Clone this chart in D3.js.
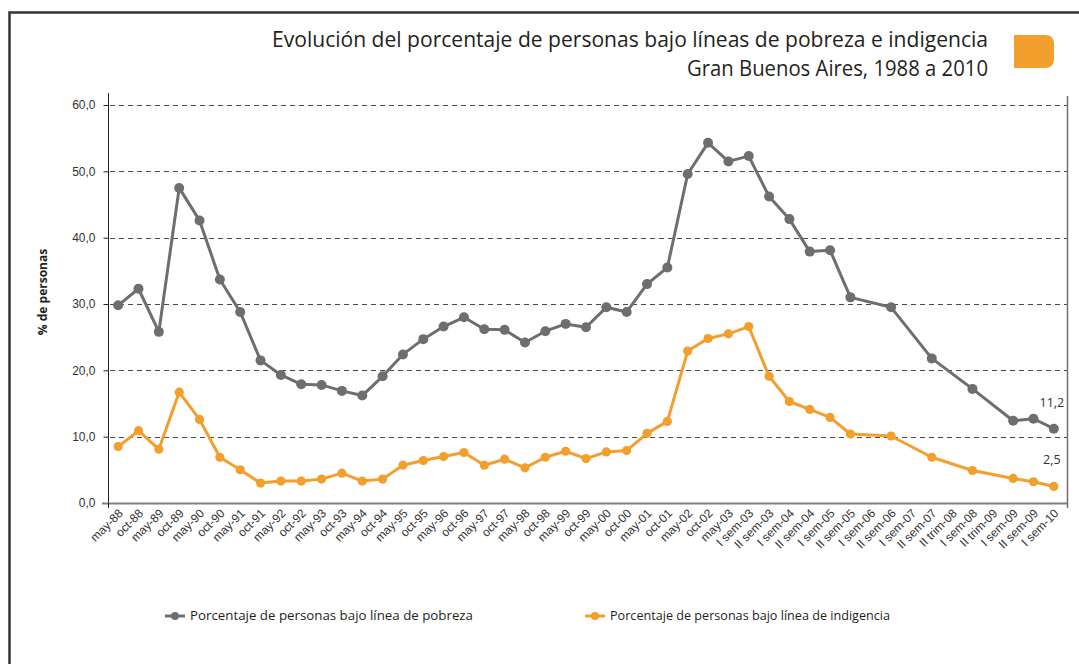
<!DOCTYPE html>
<html>
<head>
<meta charset="utf-8">
<script src="https://cdnjs.cloudflare.com/ajax/libs/d3/7.8.5/d3.min.js"></script>
<style>
  html, body { margin: 0; padding: 0; background: #ffffff; }
  svg { display: block; font-family: "Open Sans", "DejaVu Sans", sans-serif; }
</style>
</head>
<body>
<div id="chart"></div>
<script>
// periodos (onda mayo / octubre, luego EPH continua)
var categories = [
  'may-88', 'oct-88', 'may-89', 'oct-89', 'may-90', 'oct-90', 'may-91', 'oct-91',
  'may-92', 'oct-92', 'may-93', 'oct-93', 'may-94', 'oct-94', 'may-95', 'oct-95',
  'may-96', 'oct-96', 'may-97', 'oct-97', 'may-98', 'oct-98', 'may-99', 'oct-99',
  'may-00', 'oct-00', 'may-01', 'oct-01', 'may-02', 'oct-02', 'may-03',
  'I sem-03', 'II sem-03', 'I sem-04', 'II sem-04', 'I sem-05', 'II sem-05',
  'I sem-06', 'II sem-06', 'I sem-07', 'II sem-07', 'II trim-08', 'I sem-08',
  'II trim-09', 'I sem-09', 'II sem-09', 'I sem-10'
];

// % de personas bajo linea de pobreza
var pobreza = [
  29.8, 32.3, 25.8, 47.5, 42.6, 33.7, 28.8, 21.5, 19.3, 17.9, 17.8, 16.9, 16.2, 19.1, 22.4, 24.7,
  26.6, 28.0, 26.2, 26.1, 24.2, 25.9, 27.0, 26.5, 29.5, 28.8, 33.0, 35.5, 49.6, 54.3, 51.5,
  52.3, 46.2, 42.8, 37.9, 38.1, 31.0, null, 29.5, null, 21.8, null, 17.2, null, 12.4, 12.7, 11.2
];

// % de personas bajo linea de indigencia
var indigencia = [
  8.5, 10.9, 8.1, 16.7, 12.6, 6.9, 5.0, 3.0, 3.3, 3.3, 3.6, 4.5, 3.3, 3.6, 5.7, 6.4,
  7.0, 7.6, 5.7, 6.6, 5.3, 6.9, 7.8, 6.7, 7.7, 7.9, 10.5, 12.3, 22.9, 24.8, 25.5,
  26.6, 19.1, 15.3, 14.1, 12.9, 10.4, null, 10.1, null, 6.9, null, 4.9, null, 3.7, 3.2, 2.5
];

var yTicks = [0, 10, 20, 30, 40, 50, 60];

var seriesNames = [
  'Porcentaje de personas bajo línea de pobreza',
  'Porcentaje de personas bajo línea de indigencia'
];

var titleLines = [
  'Evolución del porcentaje de personas bajo líneas de pobreza e indigencia',
  'Gran Buenos Aires, 1988 a 2010'
];

var width = 1079;
var height = 664;
var margin = { top: 105, right: 12, bottom: 161, left: 108 };
var grey = '#6d6e71';
var orange = '#f29f2d';
var fmt = function(v) { return d3.format('.1f')(v).replace('.', ','); };

var svg = d3.select('#chart').append('svg')
  .attr('width', width)
  .attr('height', height);

// marco de la pagina
svg.append('path')
  .attr('d', 'M9.5,664 L9.5,12.5 L1079,12.5')
  .attr('fill', 'none')
  .attr('stroke', '#333333')
  .attr('stroke-width', 2.5);

// titulo
var title = svg.append('g').attr('class', 'title');
title.selectAll('text')
  .data(titleLines)
  .enter().append('text')
  .attr('x', 988)
  .attr('y', function(d, i) { return 47 + i * 29; })
  .attr('text-anchor', 'end')
  .attr('fill', '#231f20')
  .style('font-size', '21px')
  .attr('textLength', function(d, i) { return i === 0 ? 716 : 301; })
  .attr('lengthAdjust', 'spacingAndGlyphs')
  .text(function(d) { return d; });

// marca naranja
svg.append('path')
  .attr('d', 'M1014,35 L1045,35 Q1054,35 1054,44 L1054,59 Q1054,68 1045,68 L1014,68 Z')
  .attr('fill', orange);

var plotW = width - margin.left - margin.right;
var plotH = height - margin.top - margin.bottom;

// los puntos terminan un poco antes del borde derecho
var x = d3.scalePoint()
  .domain(categories)
  .range([margin.left, margin.left + plotW - 3])
  .padding(0.5);

var y = d3.scaleLinear()
  .domain([0, 60])
  .range([margin.top + plotH, margin.top]);

// grilla
svg.append('g')
  .attr('class', 'grid')
  .selectAll('line')
  .data(yTicks.filter(function(d) { return d > 0; }))
  .enter().append('line')
  .attr('x1', margin.left + 2)
  .attr('x2', margin.left + plotW)
  .attr('y1', function(d) { return Math.round(y(d)) + 0.5; })
  .attr('y2', function(d) { return Math.round(y(d)) + 0.5; })
  .attr('stroke', '#4a4a4a')
  .attr('stroke-width', 1)
  .attr('stroke-dasharray', '5,4');

// eje Y
var yAxis = svg.append('g')
  .attr('transform', 'translate(' + (margin.left + 0.5) + ',0)')
  .call(d3.axisLeft(y).tickValues(yTicks).tickSize(5).tickPadding(8).tickFormat(fmt));
yAxis.select('.domain')
  .attr('d', 'M0,' + (margin.top - 12) + 'V' + (margin.top + plotH + 4))
  .attr('stroke', '#231f20');
yAxis.selectAll('.tick line').attr('stroke', '#231f20');
yAxis.selectAll('.tick text')
  .attr('fill', '#333333')
  .style('font-size', '12px');

svg.append('text')
  .attr('transform', 'translate(47,' + 292 + ') rotate(-90)')
  .attr('text-anchor', 'middle')
  .attr('fill', '#231f20')
  .style('font-size', '12px')
  .style('font-weight', 'bold')
  .text('% de personas');

// borde derecho del area de grafico
svg.append('line')
  .attr('x1', margin.left + plotW + 0.5)
  .attr('x2', margin.left + plotW + 0.5)
  .attr('y1', margin.top - 9)
  .attr('y2', margin.top + plotH + 5)
  .attr('stroke', '#6d6e71')
  .attr('stroke-width', 1.5);

// eje X
var xAxis = svg.append('g')
  .attr('transform', 'translate(0,' + (margin.top + plotH) + ')')
  .call(d3.axisBottom(x).tickSize(0).tickPadding(0));
xAxis.select('.domain')
  .attr('d', 'M' + (margin.left - 6) + ',0.5H' + (margin.left + plotW))
  .attr('stroke', '#808080')
  .attr('stroke-width', 2);
xAxis.selectAll('.tick text')
  .attr('fill', '#333333')
  .style('font-size', '12px')
  .attr('text-anchor', 'end')
  .attr('dy', null)
  .attr('transform', 'translate(5,11) rotate(-45)');
xAxis.append('line')
  .attr('x1', margin.left + 0.5)
  .attr('x2', margin.left + 0.5)
  .attr('y1', 0)
  .attr('y2', 5)
  .attr('stroke', '#231f20');

// series
var series = [
  { name: seriesNames[0], values: pobreza, color: grey, r: 5 },
  { name: seriesNames[1], values: indigencia, color: orange, r: 4.6 }
];

var line = d3.line()
  .x(function(d) { return x(d.cat); })
  .y(function(d) { return y(d.value); });

series.forEach(function(s) {
  var pts = categories.map(function(c, i) {
    return { cat: c, value: s.values[i] };
  }).filter(function(d) { return d.value !== null; });

  var g = svg.append('g').attr('class', 'series');
  g.append('path')
    .datum(pts)
    .attr('d', line)
    .attr('fill', 'none')
    .attr('stroke', s.color)
    .attr('stroke-width', 3)
    .attr('stroke-linejoin', 'round');
  g.selectAll('circle')
    .data(pts)
    .enter().append('circle')
    .attr('cx', function(d) { return x(d.cat); })
    .attr('cy', function(d) { return y(d.value); })
    .attr('r', s.r)
    .attr('fill', s.color);

  // etiqueta del ultimo valor
  var last = pts[pts.length - 1];
  svg.append('text')
    .attr('x', x(last.cat) - 2)
    .attr('y', y(last.value) - 22)
    .attr('text-anchor', 'middle')
    .attr('fill', '#333333')
    .style('font-size', '12.5px')
    .text(fmt(last.value));
});

// leyenda
var legend = svg.append('g').attr('class', 'legend');
var legendX = [165, 585];
series.forEach(function(s, i) {
  var lg = legend.append('g').attr('transform', 'translate(' + legendX[i] + ',616)');
  lg.append('line')
    .attr('x1', 0).attr('x2', 20)
    .attr('stroke', s.color)
    .attr('stroke-width', 3);
  lg.append('circle')
    .attr('cx', 10)
    .attr('r', 4)
    .attr('fill', s.color);
  lg.append('text')
    .attr('x', 25)
    .attr('y', 4)
    .attr('fill', '#231f20')
    .style('font-size', '12.5px')
    .attr('textLength', i === 0 ? 283 : 280)
    .attr('lengthAdjust', 'spacingAndGlyphs')
    .text(s.name);
});
</script>
</body>
</html>
